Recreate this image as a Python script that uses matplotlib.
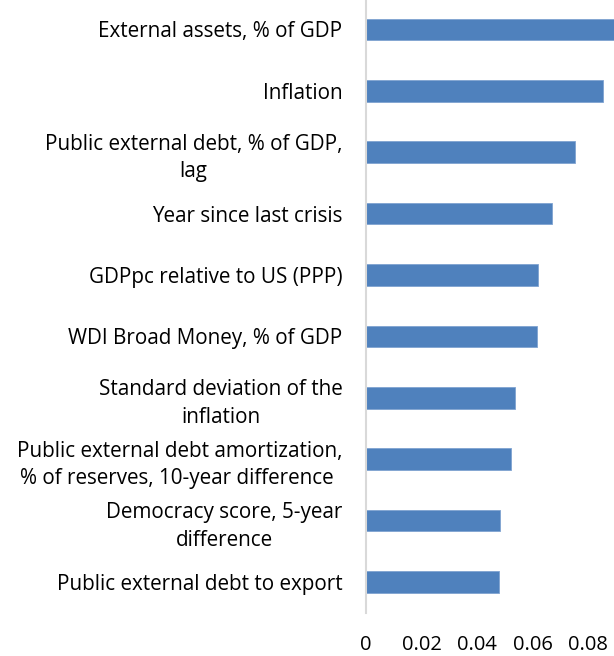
import matplotlib
matplotlib.use('Agg')
import matplotlib.pyplot as plt

plt.rcParams['font.family'] = ['Open Sans', 'DejaVu Sans']

labels = ['External assets, % of GDP',
          'Inflation',
          'Public external debt, % of GDP,\nlag',
          'Year since last crisis',
          'GDPpc relative to US (PPP)',
          'WDI Broad Money, % of GDP',
          'Standard deviation of the\ninflation',
          'Public external debt amortization,\n% of reserves, 10-year difference ',
          'Democracy score, 5-year\ndifference',
          'Public external debt to export']
values = [0.0905, 0.0853, 0.0754, 0.0670, 0.0621, 0.0617, 0.0537, 0.0524, 0.0484, 0.0481]
xticks = [0, 0.02, 0.04, 0.06, 0.08]
xticklabels = ['0', '0.02', '0.04', '0.06', '0.08']

fig = plt.figure(figsize=(6.14, 6.56), dpi=100)
ax = fig.add_axes([366 / 614, 0.066, 248 / 614, 0.936])

pos = list(range(len(values)))
ax.barh(pos, values, height=0.35, color='#4f81bd', edgecolor='#7fa3d1', linewidth=0.6)
ax.set_ylim(len(values) - 0.5, -0.5)
ax.set_xlim(0, 0.0894)

ax.set_yticks(pos)
ax.set_yticklabels(labels, fontsize=14.9, multialignment='center', linespacing=1.4)
ax.set_xticks(xticks)
ax.set_xticklabels(xticklabels, fontsize=14.5)
ax.tick_params(axis='both', length=0, colors='black')
ax.tick_params(axis='y', pad=17)
ax.tick_params(axis='x', pad=16)

for s in ['top', 'right', 'bottom']:
    ax.spines[s].set_visible(False)
ax.spines['left'].set_color('#d9d9d9')
ax.spines['left'].set_linewidth(1.5)

fig.savefig('out.png', dpi=100)
